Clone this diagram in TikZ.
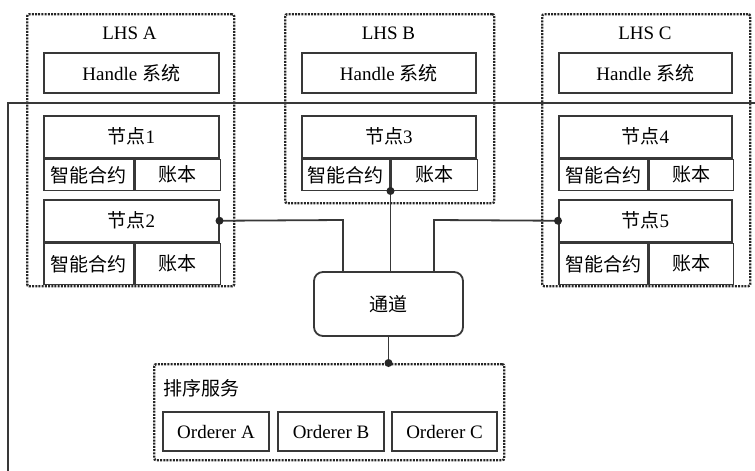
\documentclass[tikz,border=0pt]{standalone}
\usepackage{fontspec}
\setmainfont{Liberation Serif}
\newfontfamily\cjk{Noto Sans CJK SC}
\usepackage{tikz}
\usetikzlibrary{positioning}

\tikzset{
  lhs/.style={draw=black!85, line width=2.4pt, dash pattern=on 2pt off 1.2pt,
    rounded corners=2pt, anchor=north west, inner sep=0pt},
  box/.style={draw=black!78, line width=1.5pt, anchor=north west, inner sep=0pt},
  wire/.style={draw=black!78, line width=1.8pt},
  dot/.style={circle, fill=black!85, inner sep=0pt, minimum size=8pt}
}

\begin{document}
\begin{tikzpicture}[x=1pt, y=-1pt, font=\fontsize{19}{21}\selectfont]
    \useasboundingbox (0,0) rectangle (755,471);

    % bus line
    \coordinate (busR) at (755,103);
    \coordinate (busL) at (8,103);
    \coordinate (busB) at (8,471);

    % LHS A
    \node[lhs, minimum width=207pt, minimum height=272pt] (lhsA) at (26,13) {};
    \node (lhsAt) at (129.5,33) {LHS A};
    \node[box, minimum width=175pt, minimum height=40pt] (hA) at (43,52) {Handle {\cjk 系统}};
    \node[box, minimum width=175pt, minimum height=42pt] (n1) at (43,115) {{\cjk 节点}1};
    \node[box, minimum width=90pt, minimum height=31pt] (n1s) at (n1.south west) {\cjk 智能合约};
    \node[box, minimum width=85pt, minimum height=31pt] (n1l) at (n1s.north east) {\cjk 账本};
    \node[box, minimum width=175pt, minimum height=42pt] (n2) at (43,199) {{\cjk 节点}2};
    \node[box, minimum width=90pt, minimum height=41pt] (n2s) at (n2.south west) {\cjk 智能合约};
    \node[box, minimum width=85pt, minimum height=41pt] (n2l) at (n2s.north east) {\cjk 账本};

    % LHS B
    \node[lhs, minimum width=209pt, minimum height=189pt] (lhsB) at (284,13) {};
    \node (lhsBt) at (388.5,33) {LHS B};
    \node[box, minimum width=174pt, minimum height=40pt] (hB) at (301,52) {Handle {\cjk 系统}};
    \node[box, minimum width=174pt, minimum height=42pt] (n3) at (301,115) {{\cjk 节点}3};
    \node[box, minimum width=88pt, minimum height=31pt] (n3s) at (n3.south west) {\cjk 智能合约};
    \node[box, minimum width=86pt, minimum height=31pt] (n3l) at (n3s.north east) {\cjk 账本};

    % LHS C
    \node[lhs, minimum width=208pt, minimum height=272pt] (lhsC) at (541,13) {};
    \node (lhsCt) at (645,33) {LHS C};
    \node[box, minimum width=173pt, minimum height=40pt] (hC) at (558,52) {Handle {\cjk 系统}};
    \node[box, minimum width=173pt, minimum height=42pt] (n4) at (558,115) {{\cjk 节点}4};
    \node[box, minimum width=89pt, minimum height=31pt] (n4s) at (n4.south west) {\cjk 智能合约};
    \node[box, minimum width=84pt, minimum height=31pt] (n4l) at (n4s.north east) {\cjk 账本};
    \node[box, minimum width=173pt, minimum height=42pt] (n5) at (558,199) {{\cjk 节点}5};
    \node[box, minimum width=89pt, minimum height=41pt] (n5s) at (n5.south west) {\cjk 智能合约};
    \node[box, minimum width=84pt, minimum height=41pt] (n5l) at (n5s.north east) {\cjk 账本};

    % channel
    \node[wire, rounded corners=9pt, minimum width=149pt, minimum height=64pt] (ch) at (388.5,304) {\cjk 通道};

    % ordering service
    \node[lhs, minimum width=350pt, minimum height=96pt] (ord) at (153,363) {};
    \node[anchor=west] (ordt) at (160,388) {\cjk 排序服务};
    \node[box, line width=2pt, minimum width=106pt, minimum height=39pt] (oA) at (162,411) {Orderer A};
    \node[box, line width=2pt, minimum width=106pt, minimum height=39pt] (oB) at (277,411) {Orderer B};
    \node[box, line width=2pt, minimum width=105pt, minimum height=39pt] (oC) at (391,411) {Orderer C};

    % wires to the channel
    \coordinate (kA) at (343,220);
    \coordinate (kC) at (434,220);
    \draw[wire] (busR) -- (busL) -- (busB);
    \draw[wire] (n2.east) -- (kA) -- (kA |- ch.north);
    \draw[wire] (n5.west) -- (kC) -- (kC |- ch.north);
    \draw[wire] (n3s.south east) -- (n3s.south east |- ch.north);
    \draw[wire] (ch.south) -- (ch.south |- ord.north);

    \node[dot] (d2) at (n2.east) {};
    \node[dot] (d5) at (n5.west) {};
    \node[dot] (d3) at (n3s.south east) {};
    \node[dot] (dO) at (ch.south |- ord.north) {};
\end{tikzpicture}
\end{document}
